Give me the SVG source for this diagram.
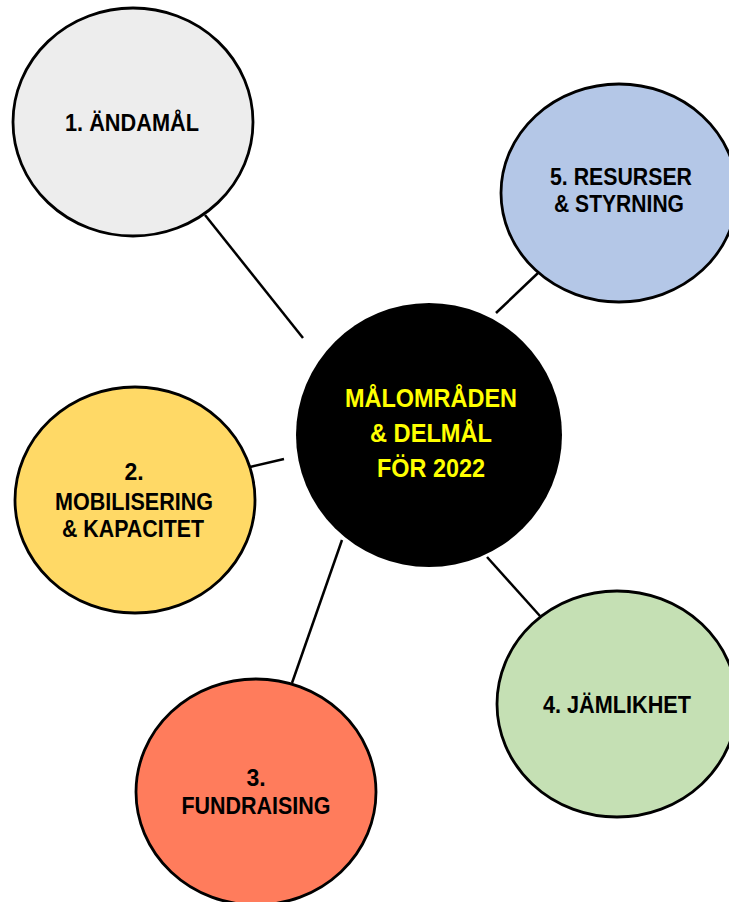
<svg xmlns="http://www.w3.org/2000/svg" width="729" height="902" viewBox="0 0 729 902">
<style>
.node{stroke:#000;stroke-width:2.8}
.lbl{font-family:"Liberation Sans",Arial,sans-serif;font-weight:bold;font-size:23px;fill:#000;text-anchor:middle}
.ctr{font-family:"Liberation Sans",Arial,sans-serif;font-weight:bold;font-size:25.5px;fill:#FFFF00;text-anchor:middle}
.conn{stroke:#000;stroke-width:2.5;fill:none}
</style>
<rect width="729" height="902" fill="#fff"/>
<g id="connectors">
<line class="conn" x1="205" y1="215" x2="303" y2="338"/>
<line class="conn" x1="538" y1="273" x2="496" y2="313"/>
<line class="conn" x1="250" y1="467" x2="284" y2="459"/>
<line class="conn" x1="292" y1="683" x2="342" y2="540"/>
<line class="conn" x1="487" y1="557" x2="540" y2="616"/>
</g>
<g id="n1">
<ellipse class="node" cx="133" cy="122" rx="120" ry="114" fill="#EDEDED"/>
<text class="lbl" x="132" y="131" textLength="134" lengthAdjust="spacingAndGlyphs">1. ÄNDAMÅL</text>
</g>
<g id="n5">
<ellipse class="node" cx="619" cy="193" rx="118" ry="109" fill="#B4C7E7"/>
<text class="lbl" x="621" y="185" textLength="142" lengthAdjust="spacingAndGlyphs">5. RESURSER</text>
<text class="lbl" x="619" y="212" textLength="130" lengthAdjust="spacingAndGlyphs">&amp; STYRNING</text>
</g>
<g id="center">
<ellipse cx="429" cy="435" rx="133" ry="132" fill="#000"/>
<text class="ctr" x="431" y="407" textLength="172" lengthAdjust="spacingAndGlyphs">MÅLOMRÅDEN</text>
<text class="ctr" x="431" y="442" textLength="122" lengthAdjust="spacingAndGlyphs">&amp; DELMÅL</text>
<text class="ctr" x="431" y="477" textLength="108" lengthAdjust="spacingAndGlyphs">FÖR 2022</text>
</g>
<g id="n2">
<ellipse class="node" cx="135" cy="500" rx="120" ry="113" fill="#FFD966"/>
<text class="lbl" x="134" y="480">2.</text>
<text class="lbl" x="134" y="510" textLength="158" lengthAdjust="spacingAndGlyphs">MOBILISERING</text>
<text class="lbl" x="133" y="537" textLength="142" lengthAdjust="spacingAndGlyphs">&amp; KAPACITET</text>
</g>
<g id="n3">
<ellipse class="node" cx="256" cy="792" rx="120" ry="113" fill="#FF7C5C"/>
<text class="lbl" x="256" y="786">3.</text>
<text class="lbl" x="256" y="814" textLength="149" lengthAdjust="spacingAndGlyphs">FUNDRAISING</text>
</g>
<g id="n4">
<ellipse class="node" cx="617" cy="704" rx="120" ry="113" fill="#C5E0B4"/>
<text class="lbl" x="617" y="713" textLength="148" lengthAdjust="spacingAndGlyphs">4. JÄMLIKHET</text>
</g>
</svg>
